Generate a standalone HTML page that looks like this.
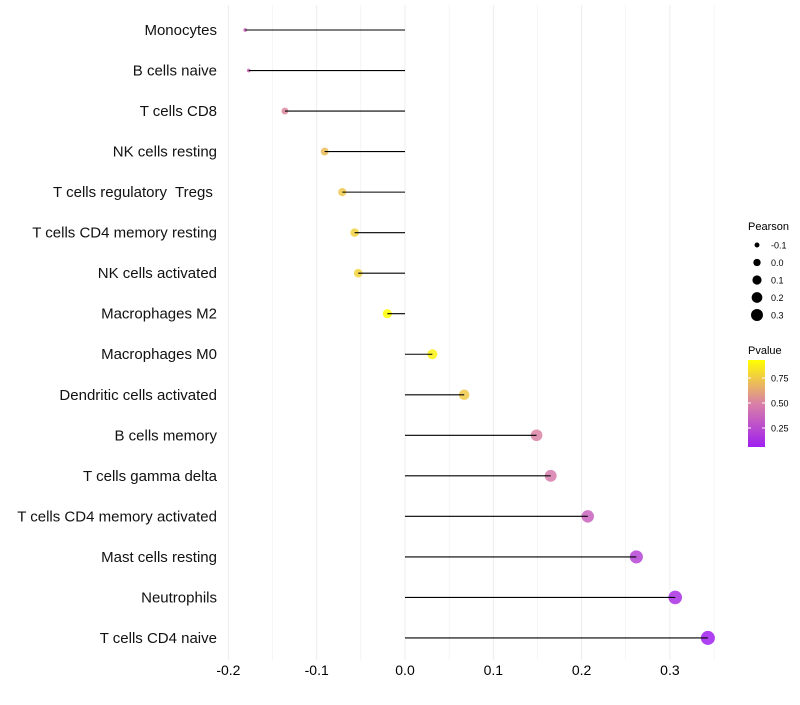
<!DOCTYPE html>
<html><head><meta charset="utf-8"><style>
body{margin:0;background:#fff;font-family:"Liberation Sans",sans-serif;}
svg text{font-family:"Liberation Sans",sans-serif;white-space:pre;}
</style></head><body>
<svg id="c" width="800" height="700"></svg>
<script>
const cats=["Monocytes","B cells naive","T cells CD8","NK cells resting","T cells regulatory  Tregs ","T cells CD4 memory resting","NK cells activated","Macrophages M2","Macrophages M0","Dendritic cells activated","B cells memory","T cells gamma delta","T cells CD4 memory activated","Mast cells resting","Neutrophils","T cells CD4 naive"];
const pearson=[-0.181,-0.177,-0.136,-0.091,-0.071,-0.057,-0.053,-0.020,0.031,0.067,0.149,0.165,0.207,0.262,0.306,0.343];
const pvalue=[0.38,0.38,0.52,0.7,0.74,0.77,0.78,0.93,0.88,0.74,0.5,0.47,0.36,0.22,0.13,0.06];
const xTicks=[-0.2,-0.1,0,0.1,0.2,0.3];
const xTickLabels=["-0.2","-0.1","0.0","0.1","0.2","0.3"];
const sizeTicks=[-0.1,0,0.1,0.2,0.3];
const sizeLabels=["-0.1","0.0","0.1","0.2","0.3"];
const colTicks=[0.25,0.5,0.75];
const colLabels=["0.25","0.50","0.75"];

const NS="http://www.w3.org/2000/svg";
const svg=document.getElementById('c');
function mk(t,a,p){const e=document.createElementNS(NS,t);for(const k in a)e.setAttribute(k,a[k]);(p||svg).appendChild(e);return e;}
const X=v=>405+v*883;
const Y=i=>30+i*40.53;
const R=v=>v<-0.16?1.9:Math.sqrt(12+(v+0.136)*78);
const LR=v=>Math.sqrt(6+(v+0.1)*75);
const stops=[[0.06,[160,32,240]],[0.5,[218,130,165]],[0.93,[255,255,0]]];
function col(p){p=Math.max(0.06,Math.min(0.93,p));
 let a=stops[0],b=stops[1];if(p>0.5){a=stops[1];b=stops[2];}
 const t=(p-a[0])/(b[0]-a[0]);
 const c=a[1].map((v,i)=>Math.round(v+(b[1][i]-v)*t));return `rgb(${c})`;}

for(let k=0;k<=11;k++){const v=-0.2+k*0.05;const g=mk('line',{x1:X(v),x2:X(v),y1:5,y2:660,stroke:'#ebebeb','stroke-width':k%2==0?0.9:0.5});
}
xTicks.forEach((v,i)=>{const t=mk('text',{x:X(v),y:675,'text-anchor':'middle','font-size':14,fill:'#000'});t.textContent=xTickLabels[i];
});
cats.forEach((c,i)=>{const t=mk('text',{x:217,y:Y(i)+5,'text-anchor':'end','font-size':15,fill:'#111'});t.textContent=c;

const d=mk('circle',{cx:X(pearson[i]),cy:Y(i),r:R(pearson[i]),fill:col(pvalue[i]),opacity:0.85});

const l=mk('line',{x1:X(0),x2:X(pearson[i]),y1:Y(i),y2:Y(i),stroke:'#000','stroke-width':1.1});
});
const lt=mk('text',{x:748,y:230,'font-size':11});lt.textContent='Pearson';

sizeTicks.forEach((v,i)=>{const y=245+i*17.5;
const c=mk('circle',{cx:757,cy:y,r:LR(v),fill:'#000'});
const t=mk('text',{x:771,y:y+3.5,'font-size':9});t.textContent=sizeLabels[i];});
const ct=mk('text',{x:748,y:354,'font-size':11});ct.textContent='Pvalue';

const defs=mk('defs',{});const lg=mk('linearGradient',{id:'g',x1:0,y1:1,x2:0,y2:0},defs);
for(let k=0;k<=10;k++){const o=k/10;mk('stop',{offset:o,'stop-color':col(0.06+o*0.87)},lg);}
const cb=mk('rect',{x:748,y:360,width:17,height:87,fill:'url(#g)'});

const cy=v=>447-(v-0.06)/(0.87)*87;
colTicks.forEach((v,i)=>{mk('line',{x1:748,x2:751,y1:cy(v),y2:cy(v),stroke:'#fff'});mk('line',{x1:762,x2:765,y1:cy(v),y2:cy(v),stroke:'#fff'});
const t=mk('text',{x:771,y:cy(v)+3.5,'font-size':9});t.textContent=colLabels[i];});
</script>
</body></html>
